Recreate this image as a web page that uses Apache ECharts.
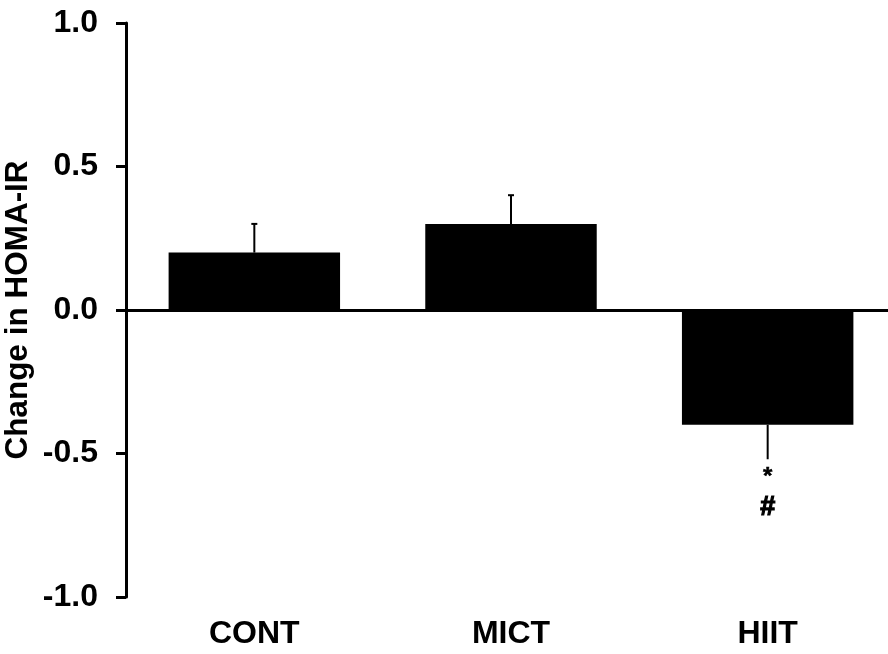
<!DOCTYPE html>
<html>
<head>
<meta charset="utf-8">
<style>
  html, body { margin: 0; padding: 0; background: #fff; }
  #chart { width: 888px; height: 654px; }
</style>
<script src="https://cdn.jsdelivr.net/npm/echarts@6/dist/echarts.min.js"></script>
</head>
<body>
<div id="chart"></div>
<script>
// Change in HOMA-IR by training group (mean with one-sided SE bars)
const categories = ['CONT', 'MICT', 'HIIT'];
const meanChange = [0.2, 0.3, -0.4];
const errorSize = [0.1, 0.1, 0.12];
const sigMarks = [[], [], ['*', '#']];
const yTicks = { min: -1, max: 1, step: 0.5 };

const FONT = '"Liberation Sans", Arial, sans-serif';

const chart = echarts.init(document.getElementById('chart'), null, { renderer: 'canvas' });

// Error bar runs away from zero; significance marks sit below the whisker
function renderError(params, api) {
  const i = api.value(0);
  const v = api.value(1);
  const err = api.value(2);
  const end = v >= 0 ? v + err : v - err;
  const p0 = api.coord([i, v]);
  const p1 = api.coord([i, end]);
  const children = [{
    type: 'line',
    shape: { x1: p0[0], y1: p0[1], x2: p1[0], y2: p1[1] },
    style: { stroke: '#000', lineWidth: 2 }
  }];
  if (v >= 0) {
    children.push({
      type: 'line',
      shape: { x1: p1[0] - 3, y1: p1[1], x2: p1[0] + 3, y2: p1[1] },
      style: { stroke: '#000', lineWidth: 2 }
    });
  }
  const marks = sigMarks[i] || [];
  marks.forEach(function (m, k) {
    children.push({
      type: 'text',
      style: {
        text: m,
        x: p1[0],
        y: p1[1] + (k === 0 ? 18 : 48),
        align: 'center',
        verticalAlign: 'middle',
        fill: '#000',
        stroke: '#000',
        lineWidth: k === 0 ? 0.5 : 1.2,
        font: 'bold ' + (k === 0 ? 24 : 27) + 'px ' + FONT
      }
    });
  });
  return { type: 'group', children: children };
}

chart.setOption({
  animation: false,
  backgroundColor: '#fff',
  grid: { left: 126, right: -8, top: 23, bottom: 57, containLabel: false, outerBoundsMode: 'none' },
  xAxis: {
    type: 'category',
    data: categories,
    axisLine: { show: false, onZero: false },
    axisTick: { show: false },
    axisLabel: {
      margin: 21,
      color: '#000',
      fontFamily: FONT,
      fontWeight: 'bold',
      fontSize: 32
    },
    splitLine: { show: false }
  },
  yAxis: {
    type: 'value',
    min: yTicks.min,
    max: yTicks.max,
    interval: yTicks.step,
    name: 'Change in HOMA-IR',
    nameLocation: 'middle',
    nameGap: 92,
    nameMoveOverlap: false,
    nameTextStyle: {
      color: '#000',
      fontFamily: FONT,
      fontWeight: 'bold',
      fontSize: 31.5
    },
    axisLine: { show: true, lineStyle: { color: '#000', width: 3 } },
    axisTick: { show: true, length: 10, lineStyle: { color: '#000', width: 3 } },
    axisLabel: {
      margin: 28,
      color: '#000',
      fontFamily: FONT,
      fontWeight: 'bold',
      fontSize: 32,
      formatter: function (v) { return v.toFixed(1); }
    },
    splitLine: { show: false }
  },
  series: [
    {
      type: 'bar',
      data: meanChange,
      barWidth: '66.8%',
      itemStyle: { color: '#000' },
      markLine: {
        silent: true,
        symbol: ['none', 'none'],
        label: { show: false },
        lineStyle: { color: '#000', width: 3, type: 'solid' },
        data: [{ yAxis: 0 }]
      },
      z: 2
    },
    {
      type: 'custom',
      renderItem: renderError,
      data: categories.map(function (c, i) { return [i, meanChange[i], errorSize[i]]; }),
      encode: { x: 0, y: 1 },
      z: 3
    }
  ]
});
</script>
</body>
</html>
